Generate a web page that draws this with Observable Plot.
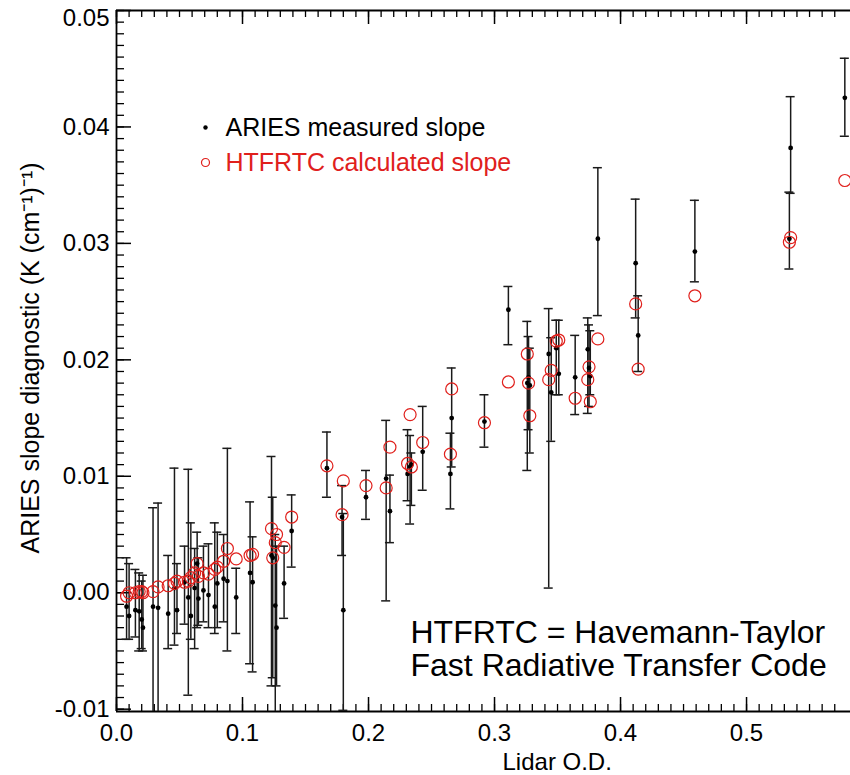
<!DOCTYPE html>
<html>
<head>
<meta charset="utf-8">
<script src="https://cdn.jsdelivr.net/npm/d3@7"></script>
<script src="https://cdn.jsdelivr.net/npm/@observablehq/plot@0.6"></script>
<style>
  html, body { margin: 0; padding: 0; background: #fff; overflow: hidden; }
  #chart { width: 850px; height: 775px; }
  #chart svg { display: block; }
</style>
</head>
<body>
<div id="chart"></div>
<script>
// ---- data ----
const odX = [0.008, 0.010, 0.015, 0.018, 0.020, 0.021, 0.029, 0.033, 0.041, 0.046,
  0.048, 0.054, 0.057, 0.059, 0.062, 0.064, 0.065, 0.069, 0.073, 0.078,
  0.080, 0.085, 0.088, 0.095, 0.106, 0.108, 0.123, 0.124, 0.126, 0.127,
  0.133, 0.139, 0.167, 0.179, 0.180, 0.198, 0.214, 0.217, 0.231, 0.233,
  0.234, 0.243, 0.266, 0.265, 0.292, 0.311, 0.326, 0.327, 0.328, 0.343,
  0.345, 0.349, 0.351, 0.364, 0.374, 0.375, 0.376, 0.382, 0.412, 0.414,
  0.459, 0.535, 0.534, 0.578];
const slopeMeasured = [-0.0012, -0.0020, -0.0015, -0.0016, -0.0023, -0.0030, -0.0012, -0.0013, -0.0018, 0.0004,
  -0.0015, 0.0009, -0.0004, -0.0020, 0.0004, 0.0025, -0.0005, 0.0002, -0.0002, -0.0012,
  0.0008, 0.0012, 0.0010, -0.0004, 0.0017, 0.0009, 0.0032, 0.0030, -0.0011, -0.0030,
  0.0008, 0.0053, 0.0107, 0.0065, -0.0015, 0.0082, 0.0098, 0.0070, 0.0102, 0.0108,
  0.0110, 0.0121, 0.0150, 0.0102, 0.0147, 0.0243, 0.0180, 0.0185, 0.0178, 0.0205,
  0.0172, 0.0210, 0.0188, 0.0185, 0.0209, 0.0193, 0.0186, 0.0304, 0.0283, 0.0221,
  0.0293, 0.0382, 0.0304, 0.0425];
const errLow = [-0.0040, -0.0040, -0.0038, -0.0050, -0.0048, -0.0050, -0.0105, -0.0105, -0.0048, -0.0045,
  -0.0035, -0.0027, -0.0088, -0.0040, -0.0048, -0.0030, -0.0028, -0.0025, -0.0030, -0.0035,
  -0.0030, -0.0025, -0.0050, -0.0035, -0.0061, -0.0068, -0.0080, -0.0073, -0.0105, -0.0080,
  -0.0022, 0.0022, 0.0082, 0.0032, -0.0101, 0.0063, -0.0007, 0.0043, 0.0079, 0.0059,
  0.0075, 0.0088, 0.0108, 0.0072, 0.0125, 0.0213, 0.0105, 0.0140, 0.0120, 0.0004,
  0.0130, 0.0170, 0.0170, 0.0153, 0.0154, 0.0160, 0.0170, 0.0238, 0.0236, 0.0190,
  0.0267, 0.0343, 0.0278, 0.0392];
const errHigh = [0.0030, 0.0025, 0.0020, 0.0017, 0.0010, 0.0015, 0.0073, 0.0077, 0.0032, 0.0107,
  0.0025, 0.0040, 0.0106, 0.0060, 0.0038, 0.0052, 0.0030, 0.0040, 0.0042, 0.0060,
  0.0052, 0.0050, 0.0124, 0.0021, 0.0078, 0.0048, 0.0117, 0.0082, 0.0050, 0.0040,
  0.0040, 0.0084, 0.0138, 0.0092, 0.0068, 0.0105, 0.0148, 0.0101, 0.0140, 0.0135,
  0.0120, 0.0160, 0.0193, 0.0137, 0.0170, 0.0263, 0.0233, 0.0220, 0.0210, 0.0244,
  0.0219, 0.0234, 0.0234, 0.0221, 0.0236, 0.0230, 0.0225, 0.0365, 0.0338, 0.0255,
  0.0337, 0.0426, 0.0344, 0.0459];
const slopeCalc = [-0.0003, 0.0000, 0.0000, 0.0001, 0.0001, 0.0000, 0.0001, 0.0005, 0.0006, 0.0008,
  0.0010, 0.0009, 0.0010, 0.0013, 0.0017, 0.0025, 0.0014, 0.0017, 0.0016, 0.0020,
  0.0022, 0.0027, 0.0038, 0.0029, 0.0032, 0.0033, 0.0055, 0.0030, 0.0043, 0.0050,
  0.0039, 0.0065, 0.0109, 0.0067, 0.0096, 0.0092, 0.0090, 0.0125, 0.0111, 0.0153,
  0.0108, 0.0129, 0.0175, 0.0119, 0.0146, 0.0181, 0.0205, 0.0180, 0.0152, 0.0183,
  0.0191, 0.0216, 0.0217, 0.0167, 0.0183, 0.0194, 0.0164, 0.0218, 0.0248, 0.0192,
  0.0255, 0.0305, 0.0301, 0.0354];

const xDomain = [0, 0.5825];
const yDomain = [-0.0102, 0.05];
const xMajorTicks = [0.0, 0.1, 0.2, 0.3, 0.4, 0.5];
const yMajorTicks = [-0.01, 0.00, 0.01, 0.02, 0.03, 0.04];
const yTopTick = [0.05];
const xMinorTicks = d3.range(0, 0.58, 0.01);
const yMinorTicks = d3.range(-0.010, 0.0501, 0.001);

const legendLabels = ["ARIES measured slope", "HTFRTC calculated slope"];
const noteLines = ["HTFRTC = Havemann-Taylor", "Fast Radiative Transfer Code"];
const xLabel = "Lidar O.D.";
const yLabel = "ARIES slope diagnostic (K (cm\u207B\u00B9)\u207B\u00B9)";

const rows = odX.map((x, i) => ({
  x, y: slopeMeasured[i], lo: errLow[i], hi: errHigh[i], c: slopeCalc[i]
}));

const W = 850, H = 775;
const mTop = 10, mBottom = 64, mLeft = 116, mRight = 0;
const pxPerX = (W - mLeft - mRight) / (xDomain[1] - xDomain[0]);
const pxPerY = (H - mTop - mBottom) / (yDomain[1] - yDomain[0]);
const capHalf = 4.5 / pxPerX;
const majX = 15 / pxPerX, minX = 8 / pxPerX;   // y-axis tick lengths (in x units)
const majY = 14 / pxPerY, minY = 7 / pxPerY;   // x-axis tick lengths (in y units)

const red = "#e0201c";
const font = "'Liberation Sans', Arial, Helvetica, sans-serif";
const txt = { textAnchor: "start", lineAnchor: "middle", frameAnchor: "top-left" };

const chart = Plot.plot({
  width: W, height: H,
  marginTop: mTop, marginBottom: mBottom, marginLeft: mLeft, marginRight: mRight,
  style: { fontFamily: font, background: "white", overflow: "visible" },
  x: { domain: xDomain },
  y: { domain: yDomain },
  marks: [
    // axis labels
    Plot.axisX(xMajorTicks, { tickSize: 0, tickPadding: 12, fontSize: 24, fill: "black",
      tickFormat: d => d.toFixed(1), label: null }),
    Plot.axisY(yMajorTicks, { tickSize: 0, tickPadding: 7, fontSize: 24, fill: "black",
      tickFormat: d => d.toFixed(2), label: null }),
    Plot.axisY(yTopTick, { tickSize: 0, tickPadding: 7, fontSize: 24, fill: "black", dy: 8,
      tickFormat: d => d.toFixed(2), label: null }),
    // inward ticks: bottom & top
    Plot.ruleX(xMinorTicks, { x: d => d, y1: yDomain[0], y2: yDomain[0] + minY, stroke: "black", strokeWidth: 1.3 }),
    Plot.ruleX(xMajorTicks, { x: d => d, y1: yDomain[0], y2: yDomain[0] + majY, stroke: "black", strokeWidth: 1.5 }),
    Plot.ruleX(xMinorTicks, { x: d => d, y1: yDomain[1], y2: yDomain[1] - minY, stroke: "black", strokeWidth: 1.3 }),
    Plot.ruleX(xMajorTicks, { x: d => d, y1: yDomain[1], y2: yDomain[1] - majY, stroke: "black", strokeWidth: 1.5 }),
    // inward ticks: left
    Plot.ruleY(yMinorTicks, { y: d => d, x1: xDomain[0], x2: xDomain[0] + minX, stroke: "black", strokeWidth: 1.3 }),
    Plot.ruleY([...yMajorTicks, ...yTopTick], { y: d => d, x1: xDomain[0], x2: xDomain[0] + majX, stroke: "black", strokeWidth: 1.5 }),
    // frame (left, bottom, top)
    Plot.ruleX([xDomain[0]], { stroke: "black", strokeWidth: 1.8 }),
    Plot.ruleY([yDomain[0]], { stroke: "black", strokeWidth: 1.8 }),
    Plot.ruleY([yDomain[1]], { stroke: "black", strokeWidth: 1.8 }),
    // error bars
    Plot.ruleX(rows, { x: "x", y1: "lo", y2: "hi", stroke: "#1a1a1a", strokeWidth: 1.5, clip: true }),
    Plot.ruleY(rows, { y: "lo", x1: d => d.x - capHalf, x2: d => d.x + capHalf, stroke: "#1a1a1a", strokeWidth: 1.5, clip: true }),
    Plot.ruleY(rows, { y: "hi", x1: d => d.x - capHalf, x2: d => d.x + capHalf, stroke: "#1a1a1a", strokeWidth: 1.5, clip: true }),
    // measured
    Plot.dot(rows, { x: "x", y: "y", r: 2.4, fill: "black", stroke: "none" }),
    // calculated
    Plot.dot(rows, { x: "x", y: "c", r: 6, fill: "none", stroke: red, strokeWidth: 1.2 }),
    // legend
    Plot.dot([legendLabels[0]], { frameAnchor: "top-left", dx: 89, dy: 117, r: 2.2, fill: "black", stroke: "none" }),
    Plot.text([legendLabels[0]], { ...txt, text: d => d, dx: 109, dy: 117, fontSize: 25, fill: "black" }),
    Plot.dot([legendLabels[1]], { frameAnchor: "top-left", dx: 89, dy: 152, r: 4, fill: "none", stroke: red, strokeWidth: 1.2 }),
    Plot.text([legendLabels[1]], { ...txt, text: d => d, dx: 109, dy: 152, fontSize: 25, fill: red }),
    // note
    Plot.text([noteLines[0]], { ...txt, text: d => d, dx: 294, dy: 622, fontSize: 32, fill: "black" }),
    Plot.text([noteLines[1]], { ...txt, text: d => d, dx: 294, dy: 655, fontSize: 32, fill: "black" }),
    // axis titles
    Plot.text([xLabel], { ...txt, text: d => d, dx: 386, dy: 752, fontSize: 24, fill: "black" }),
    Plot.text([yLabel], { text: d => d, frameAnchor: "left", lineAnchor: "middle", dx: -86, dy: -3, rotate: -90, textAnchor: "middle", fontSize: 25, fill: "black" })
  ]
});
document.getElementById("chart").appendChild(chart);
</script>
</body>
</html>
